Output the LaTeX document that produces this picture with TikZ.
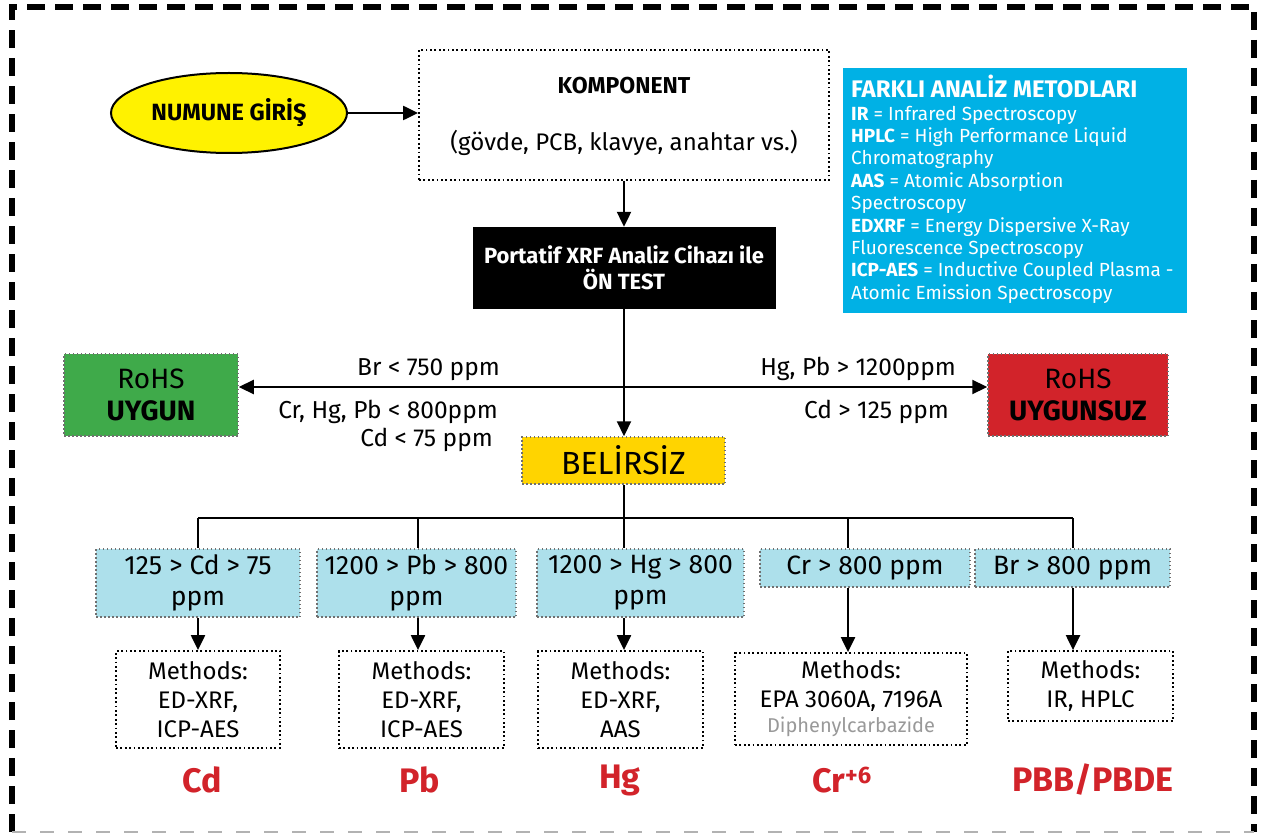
\documentclass[tikz,border=0pt]{standalone}
\usepackage{fontspec}
\setmainfont{Fira Sans}
\usetikzlibrary{arrows.meta,shapes.geometric}
\definecolor{yel}{HTML}{FFF200}
\definecolor{gold}{HTML}{FFD400}
\definecolor{grn}{HTML}{3FAA4A}
\definecolor{rd}{HTML}{D2232A}
\definecolor{lblue}{HTML}{ADE0EB}
\definecolor{cyanb}{HTML}{00B1E5}
\definecolor{dotgray}{HTML}{707070}
\newcommand{\fs}[2]{\fontsize{#1}{#2}\selectfont}
\begin{document}
\begin{tikzpicture}[x=1pt,y=-1pt,
  conn/.style={line width=2.2pt,-{Triangle[length=15pt,width=14pt]}},
  wire/.style={line width=2.2pt},
  bdot/.style={draw=black,line width=1.8pt,dash pattern=on 1.8pt off 2.6pt,inner sep=0pt},
  gdot/.style={draw=dotgray,line width=1.5pt,dash pattern=on 1.5pt off 2.5pt,inner sep=0pt},
  lbl/.style={anchor=base east,inner sep=0pt,font=\fs{24.5}{26}},
  meth/.style={bdot,align=center,font=\fs{24}{29}},
  crit/.style={gdot,fill=lblue,align=center,font=\fs{26.5}{31}},
  elem/.style={text=rd,font=\fs{34}{40}\bfseries,inner sep=0pt}]
\useasboundingbox (0,0) rectangle (1266,834);
% frame
\draw[line width=6pt,dash pattern=on 18pt off 10pt] (12,832) -- (12,7) -- (1254,7) -- (1254,832);
\draw[gray!60,line width=2pt,dash pattern=on 14pt off 14pt] (12,832) -- (1254,832);

% top
\node[ellipse,draw,line width=2pt,fill=yel,minimum width=236,minimum height=80,inner sep=0pt] (in) at (229,113) {\bfseries\fs{23.5}{26}NUMUNE GİRİŞ};
\node[bdot,minimum width=410,minimum height=130] (komp) at (624,115) {};
\node (kompT) at (624,86) {\bfseries\fs{23}{26}KOMPONENT};
\node (kompS) at (624,143) {\fs{24}{28}(gövde, PCB, klavye, anahtar vs.)};
\draw[conn] (in.east) -- (in.east -| komp.west);

\node[fill=black,text=white,minimum width=303,minimum height=82,align=center,inner sep=0pt,font=\bfseries\fs{22}{26}] (xrf) at (624,268) {Portatif XRF Analiz Cihazı ile\\ÖN TEST};
\draw[conn] (komp.south) -- (xrf.north);

% info box
\node[fill=cyanb,minimum width=344,minimum height=245,inner sep=0pt] (info) at (1015,190.5) {};
\node[anchor=north west,text=white,align=left,inner sep=0pt,font=\fs{19}{22.4}] (infoT) at (851,75) {{\bfseries\fs{24}{22.4}FARKLI ANALİZ METODLARI}\\
\textbf{IR} = Infrared Spectroscopy\\
\textbf{HPLC} = High Performance Liquid\\
Chromatography\\
\textbf{AAS} = Atomic Absorption\\
Spectroscopy\\
\textbf{EDXRF} = Energy Dispersive X-Ray\\
Fluorescence Spectroscopy\\
\textbf{ICP-AES} = Inductive Coupled Plasma -\\
Atomic Emission Spectroscopy};

% decision row
\node[gdot,fill=grn,minimum width=174,minimum height=82,align=center,font=\fs{28}{32}] (ok) at (151,395) {RoHS\\\textbf{UYGUN}};
\node[gdot,fill=rd,minimum width=180,minimum height=82,align=center,font=\fs{28}{32}] (nok) at (1078,395) {RoHS\\\textbf{UYGUNSUZ}};
\node[gdot,fill=gold,minimum width=203,minimum height=47,font=\fs{32}{34}] (bel) at (623.5,460.5) {BELİRSİZ};
\coordinate (jn) at (624,387);
\draw[conn] (xrf.south) -- (xrf.south |- bel.north);
\draw[conn] (jn) -- (jn -| ok.east);
\draw[conn] (jn) -- (jn -| nok.west);

\node[lbl] (l1) at (500,375) {Br < 750 ppm};
\node[lbl] (l2) at (498,418) {Cr, Hg, Pb < 800ppm};
\node[lbl] (l3) at (493,446) {Cd < 75 ppm};
\node[lbl] (r1) at (956,375) {Hg, Pb > 1200ppm};
\node[lbl] (r2) at (949,418) {Cd > 125 ppm};

% criteria boxes
\node[crit,minimum width=204,minimum height=68] (cd) at (198,583) {125 > Cd > 75\\ppm};
\node[crit,minimum width=199,minimum height=68] (pb) at (416.5,583) {1200 > Pb > 800\\ppm};
\node[crit,minimum width=207,minimum height=68] (hg) at (640.5,583) {1200 > Hg > 800\\ppm};
\node[crit,minimum width=210,minimum height=38] (cr) at (865,568) {Cr > 800 ppm};
\node[crit,minimum width=195,minimum height=38] (br) at (1072.5,568) {Br > 800 ppm};

\coordinate (bCd) at (198,518);
\coordinate (bPb) at (418,518);
\coordinate (bHg) at (624,518);
\coordinate (bCr) at (848,518);
\coordinate (bBr) at (1073,518);
\draw[wire] (bCd) -- (bBr);
\draw[wire] (bel.south -| bHg) -- (bHg);
\draw[wire] (bCd) -- (bCd |- cd.north);
\draw[wire] (bPb) -- (bPb |- pb.north);
\draw[wire] (bHg) -- (bHg |- hg.north);
\draw[wire] (bCr) -- (bCr |- cr.north);
\draw[wire] (bBr) -- (bBr |- br.north);

% methods
\node[meth,minimum width=164,minimum height=97] (cdm) at (198,699.5) {Methods:\\ED-XRF,\\ICP-AES};
\node[meth,minimum width=165,minimum height=97] (pbm) at (421.5,699.5) {Methods:\\ED-XRF,\\ICP-AES};
\node[meth,minimum width=165,minimum height=97] (hgm) at (620.5,699.5) {Methods:\\ED-XRF,\\AAS};
\node[meth,minimum width=232,minimum height=92] (crm) at (851,699) {Methods:\\EPA 3060A, 7196A\\[-4pt]{\fs{20}{22}\color{gray!80}Diphenylcarbazide}};
\node[meth,minimum width=165,minimum height=70] (brm) at (1090.5,686) {Methods:\\IR, HPLC};

\draw[conn] (cd.south -| bCd) -- (cdm.north -| bCd);
\draw[conn] (pb.south -| bPb) -- (pbm.north -| bPb);
\draw[conn] (hg.south -| bHg) -- (hgm.north -| bHg);
\draw[conn] (cr.south -| bCr) -- (crm.north -| bCr);
\draw[conn] (br.south -| bBr) -- (brm.north -| bBr);

% element labels
\node[elem] (eCd) at (202,780) {Cd};
\node[elem] (ePb) at (420,780) {Pb};
\node[elem] (eHg) at (620,780) {Hg};
\node[elem] (eCr) at (842,780) {Cr\textsuperscript{+6}};
\node[elem] (ePbb) at (1093,780) {PBB/PBDE};
\end{tikzpicture}
\end{document}
